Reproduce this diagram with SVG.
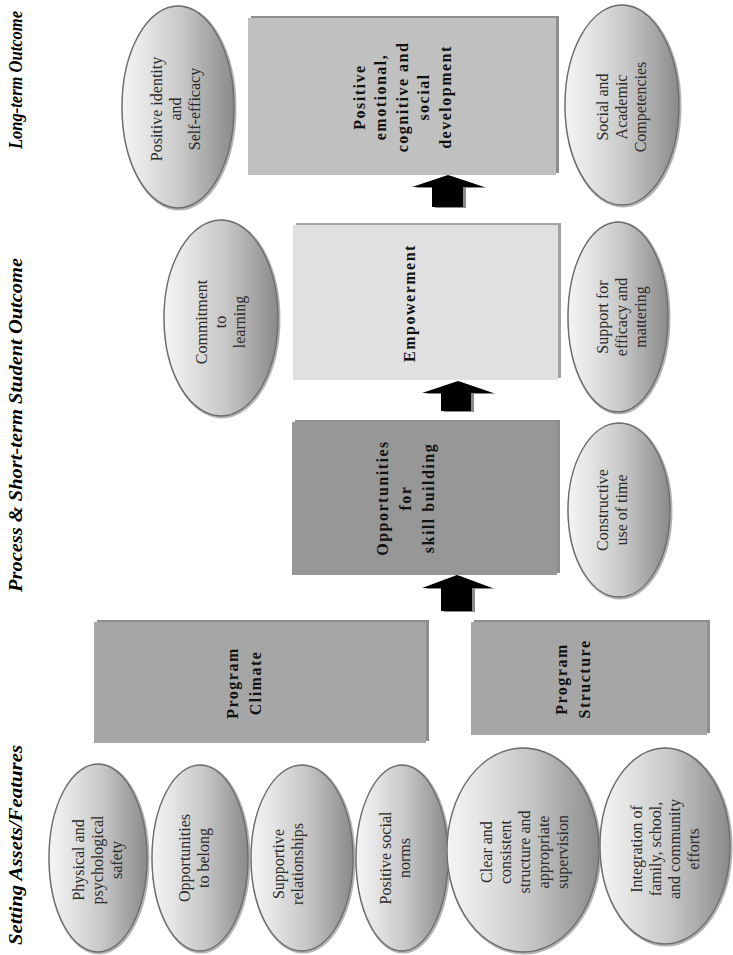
<svg xmlns="http://www.w3.org/2000/svg" width="733" height="955" viewBox="0 0 733 955">
  <defs>
    <linearGradient id="ovalFill" x1="0" y1="0" x2="1" y2="0">
      <stop offset="0" stop-color="#f4f4f4"/>
      <stop offset="0.2" stop-color="#e6e6e6"/>
      <stop offset="0.55" stop-color="#c6c6c6"/>
      <stop offset="1" stop-color="#8a8a8a"/>
    </linearGradient>
    <style>
      .oval { fill: url(#ovalFill); stroke: #6c6c6c; stroke-width: 1.4; }
      .oval-shadow { fill: none; stroke: #b4b4b4; stroke-width: 3; }
      .box-shadow { fill: #8e8e8e; }
      .otext { font-family: "Liberation Serif", "Times New Roman", serif; font-size: 16px; fill: #2b2b2b; text-anchor: middle; }
      .btext { font-family: "Liberation Serif", "Times New Roman", serif; font-size: 16px; font-weight: bold; letter-spacing: 1.5px; fill: #111; text-anchor: middle; }
      .head { font-family: "Liberation Serif", "Times New Roman", serif; font-size: 18px; font-weight: bold; font-style: italic; fill: #000; text-anchor: middle; }
      .arrow { fill: #000; }
      .arrow-shadow { fill: #8a8a8a; }
    </style>
  </defs>
  <rect width="733" height="955" fill="#ffffff"/>

  <!-- column headings, read bottom to top -->
  <g id="headings">
    <text class="head" transform="translate(22,80) rotate(-90)" textLength="138" lengthAdjust="spacingAndGlyphs">Long-term Outcome</text>
    <text class="head" transform="translate(22,425) rotate(-90)" textLength="334" lengthAdjust="spacingAndGlyphs">Process &amp; Short-term Student Outcome</text>
    <text class="head" transform="translate(22,845) rotate(-90)" textLength="200" lengthAdjust="spacingAndGlyphs">Setting Assets/Features</text>
  </g>

  <!-- upward block arrows between stages -->
  <g id="connectors">
    <g transform="translate(3,1)">
      <path class="arrow-shadow" d="M457,575 L492,588 L472,588 L472,611 L441,611 L441,588 L422,588 Z"/>
      <path class="arrow-shadow" d="M458,381 L493,393 L471,393 L471,411 L441,411 L441,393 L422,393 Z"/>
      <path class="arrow-shadow" d="M448,175 L484,187 L463,187 L463,207 L432,207 L432,187 L412,187 Z"/>
    </g>
    <path class="arrow" d="M457,575 L492,588 L472,588 L472,611 L441,611 L441,588 L422,588 Z"/>
    <path class="arrow" d="M458,381 L493,393 L471,393 L471,411 L441,411 L441,393 L422,393 Z"/>
    <path class="arrow" d="M448,175 L484,187 L463,187 L463,207 L432,207 L432,187 L412,187 Z"/>
  </g>

  <!-- stage boxes -->
  <g id="box-development">
    <rect class="box-shadow" x="251" y="16" width="308" height="157"/>
    <rect x="248" y="18" width="308" height="157" fill="#c0c0c0"/>
    <g transform="translate(402,97) rotate(-90)">
      <text class="btext" x="0" y="-37.5">Positive</text>
      <text class="btext" x="0" y="-16">emotional,</text>
      <text class="btext" x="0" y="5.5">cognitive and</text>
      <text class="btext" x="0" y="27">social</text>
      <text class="btext" x="0" y="48.5">development</text>
    </g>
  </g>

  <g id="box-empowerment">
    <rect x="296" y="223" width="265" height="155" fill="#a2a2a2"/>
    <rect x="293" y="225" width="265" height="155" fill="#e0e0e0"/>
    <g transform="translate(409,303) rotate(-90)">
      <text class="btext" x="0" y="5.5">Empowerment</text>
    </g>
  </g>

  <g id="box-skill">
    <rect class="box-shadow" x="295" y="420" width="265" height="153"/>
    <rect x="292" y="422" width="265" height="153" fill="#979797"/>
    <g transform="translate(405,498) rotate(-90)">
      <text class="btext" x="0" y="-17.5">Opportunities</text>
      <text class="btext" x="0" y="5.5">for</text>
      <text class="btext" x="0" y="28.5">skill building</text>
    </g>
  </g>

  <g id="box-climate">
    <rect class="box-shadow" x="97" y="620" width="332" height="121"/>
    <rect x="94" y="622" width="332" height="121" fill="#a6a6a6"/>
    <g transform="translate(244,683) rotate(-90)">
      <text class="btext" x="0" y="-6">Program</text>
      <text class="btext" x="0" y="17">Climate</text>
    </g>
  </g>

  <g id="box-structure">
    <rect class="box-shadow" x="474" y="620" width="236" height="113"/>
    <rect x="471" y="622" width="236" height="113" fill="#a6a6a6"/>
    <g transform="translate(573,679) rotate(-90)">
      <text class="btext" x="0" y="-6">Program</text>
      <text class="btext" x="0" y="17">Structure</text>
    </g>
  </g>

  <!-- outcome ovals -->
  <g id="oval-identity">
    <ellipse class="oval-shadow" cx="179" cy="108" rx="56" ry="101"/>
    <ellipse class="oval" cx="178" cy="107" rx="56" ry="101"/>
    <g transform="translate(175,109) rotate(-90)">
      <text class="otext" x="0" y="-13.5">Positive identity</text>
      <text class="otext" x="0" y="5.5">and</text>
      <text class="otext" x="0" y="24.5">Self-efficacy</text>
    </g>
  </g>

  <g id="oval-competencies">
    <ellipse class="oval-shadow" cx="623" cy="106" rx="57" ry="100"/>
    <ellipse class="oval" cx="622" cy="105" rx="57" ry="100"/>
    <g transform="translate(621,107) rotate(-90)">
      <text class="otext" x="0" y="-13.5">Social and</text>
      <text class="otext" x="0" y="5.5">Academic</text>
      <text class="otext" x="0" y="24.5">Competencies</text>
    </g>
  </g>

  <g id="oval-commitment">
    <ellipse class="oval-shadow" cx="222" cy="319" rx="57" ry="98"/>
    <ellipse class="oval" cx="221" cy="318" rx="57" ry="98"/>
    <g transform="translate(220,322) rotate(-90)">
      <text class="otext" x="0" y="-13.5">Commitment</text>
      <text class="otext" x="0" y="5.5">to</text>
      <text class="otext" x="0" y="24.5">learning</text>
    </g>
  </g>

  <g id="oval-mattering">
    <ellipse class="oval-shadow" cx="619" cy="318" rx="50" ry="95"/>
    <ellipse class="oval" cx="618" cy="317" rx="50" ry="95"/>
    <g transform="translate(621,317) rotate(-90)">
      <text class="otext" x="0" y="-13.5">Support for</text>
      <text class="otext" x="0" y="5.5">efficacy and</text>
      <text class="otext" x="0" y="24.5">mattering</text>
    </g>
  </g>

  <g id="oval-time">
    <ellipse class="oval-shadow" cx="620" cy="511" rx="51" ry="87"/>
    <ellipse class="oval" cx="619" cy="510" rx="51" ry="87"/>
    <g transform="translate(612,510) rotate(-90)">
      <text class="otext" x="0" y="-4">Constructive</text>
      <text class="otext" x="0" y="15">use of time</text>
    </g>
  </g>

  <!-- setting feature ovals -->
  <g id="oval-safety">
    <ellipse class="oval-shadow" cx="99" cy="859" rx="49" ry="94"/>
    <ellipse class="oval" cx="98" cy="858" rx="49" ry="94"/>
    <g transform="translate(97,860) rotate(-90)">
      <text class="otext" x="0" y="-13.5">Physical and</text>
      <text class="otext" x="0" y="5.5">psychological</text>
      <text class="otext" x="0" y="24.5">safety</text>
    </g>
  </g>

  <g id="oval-belong">
    <ellipse class="oval-shadow" cx="201" cy="859" rx="48" ry="93"/>
    <ellipse class="oval" cx="200" cy="858" rx="48" ry="93"/>
    <g transform="translate(194,858) rotate(-90)">
      <text class="otext" x="0" y="-4">Opportunities</text>
      <text class="otext" x="0" y="15">to belong</text>
    </g>
  </g>

  <g id="oval-relationships">
    <ellipse class="oval-shadow" cx="303" cy="859" rx="51" ry="93"/>
    <ellipse class="oval" cx="302" cy="858" rx="51" ry="93"/>
    <g transform="translate(288,864) rotate(-90)">
      <text class="otext" x="0" y="-4">Supportive</text>
      <text class="otext" x="0" y="15">relationships</text>
    </g>
  </g>

  <g id="oval-norms">
    <ellipse class="oval-shadow" cx="403" cy="859" rx="46" ry="93"/>
    <ellipse class="oval" cx="402" cy="858" rx="46" ry="93"/>
    <g transform="translate(395,858) rotate(-90)">
      <text class="otext" x="0" y="-4">Positive social</text>
      <text class="otext" x="0" y="15">norms</text>
    </g>
  </g>

  <g id="oval-supervision">
    <ellipse class="oval-shadow" cx="524" cy="851" rx="76" ry="102"/>
    <ellipse class="oval" cx="523" cy="850" rx="76" ry="102"/>
    <g transform="translate(524,852) rotate(-90)">
      <text class="otext" x="0" y="-32.5">Clear and</text>
      <text class="otext" x="0" y="-13.5">consistent</text>
      <text class="otext" x="0" y="5.5">structure and</text>
      <text class="otext" x="0" y="24.5">appropriate</text>
      <text class="otext" x="0" y="43.5">supervision</text>
    </g>
  </g>

  <g id="oval-integration">
    <ellipse class="oval-shadow" cx="666" cy="847" rx="65" ry="98"/>
    <ellipse class="oval" cx="665" cy="846" rx="65" ry="98"/>
    <g transform="translate(665,849) rotate(-90)">
      <text class="otext" x="0" y="-23">Integration of</text>
      <text class="otext" x="0" y="-4">family, school,</text>
      <text class="otext" x="0" y="15">and community</text>
      <text class="otext" x="0" y="34">efforts</text>
    </g>
  </g>
</svg>
